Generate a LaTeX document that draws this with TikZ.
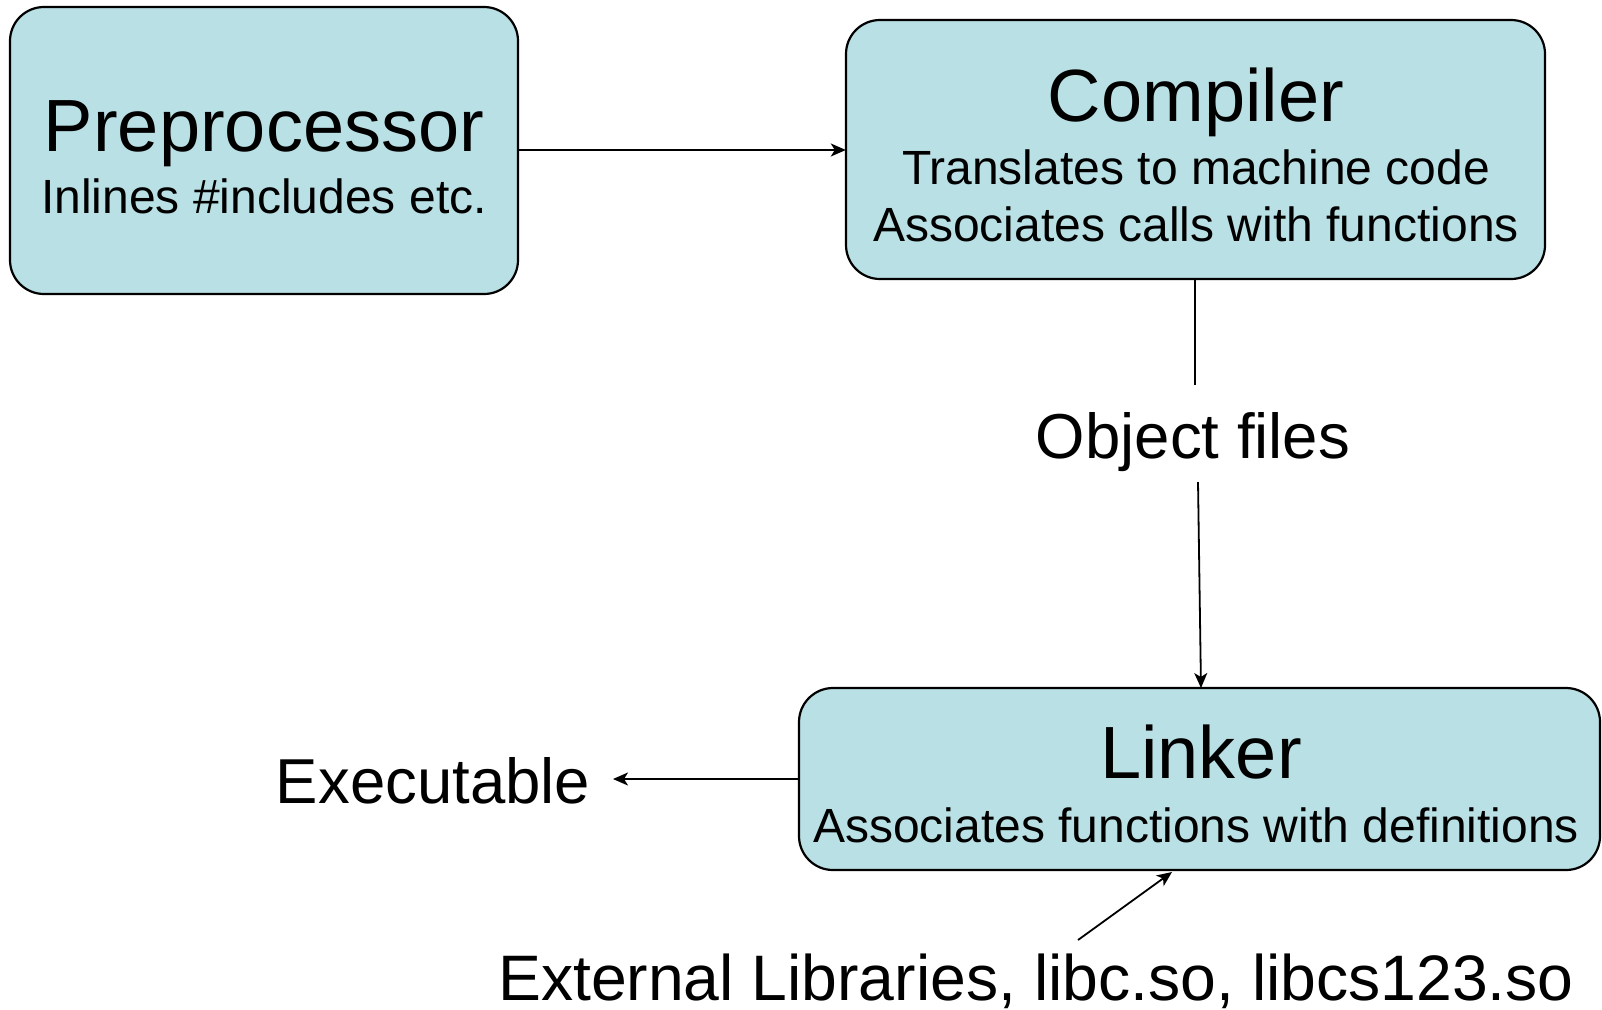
\documentclass[tikz,border=0pt]{standalone}
\usepackage{fontspec}
\setmainfont{Liberation Sans}
\usetikzlibrary{arrows.meta}
\definecolor{boxfill}{RGB}{185,224,228}
\tikzset{
  stagebox/.style={draw=black, line width=2.2pt, fill=boxfill, rounded corners=34pt},
  title/.style={anchor=base, inner sep=0pt, font=\fontsize{74}{80}\selectfont},
  sub/.style={anchor=base, inner sep=0pt, font=\fontsize{48}{52}\selectfont},
  label/.style={anchor=base, inner sep=0pt, font=\fontsize{63.5}{70}\selectfont},
  conn/.style={line width=1.8pt, -{Stealth[length=15pt,width=13pt,inset=4pt]}},
  plain/.style={line width=1.8pt}
}
\begin{document}
\begin{tikzpicture}[x=1pt,y=-1pt]
\useasboundingbox (0,0) rectangle (1602,1009);
% boxes
\draw[stagebox] (10,7) rectangle (518,294);
\node[inner sep=0pt] (pre) at (264,150.5) [minimum width=508pt, minimum height=287pt] {};
\draw[stagebox] (846,20) rectangle (1545,279);
\node[inner sep=0pt] (comp) at (1195.5,149.5) [minimum width=699pt, minimum height=259pt] {};
\draw[stagebox] (799,688) rectangle (1600,870);
\node[inner sep=0pt] (link) at (1199.5,779) [minimum width=801pt, minimum height=182pt] {};
% texts
\node[title] (preT) at (264,151) {Preprocessor};
\node[sub] (preS) at (264,213) {Inlines \#includes etc.};
\node[title] (compT) at (1196,121) {Compiler};
\node[sub] (compS1) at (1196,184) {Translates to machine code};
\node[sub] (compS2) at (1196,241) {Associates calls with functions};
\node[title] (linkT) at (1201,778) {Linker};
\node[sub] (linkS) at (1196,842) {Associates functions with definitions};
\node[label] (obj) at (1193,458) {Object files};
\node[label] (exe) at (433,803) {Executable};
\node[label, font=\fontsize{64.3}{70}\selectfont] (ext) at (1036,1000) {External Libraries, libc.so, libcs123.so};
% connectors
\coordinate (objtop) at (1195,385);
\coordinate (objbot) at (1198,482);
\coordinate (exetip) at (613,779);
\coordinate (extstart) at (1078,940);
\coordinate (exttip) at (1172,872);
\draw[conn] (pre.east |- 0,150) -- (comp.west |- 0,150);
\draw[plain] (comp.south -| 1195,0) -- (objtop);
\draw[conn] (objbot) -- (1201,688);
\draw[conn] (link.west |- 0,779) -- (exetip);
\draw[conn] (extstart) -- (exttip);
\end{tikzpicture}
\end{document}
